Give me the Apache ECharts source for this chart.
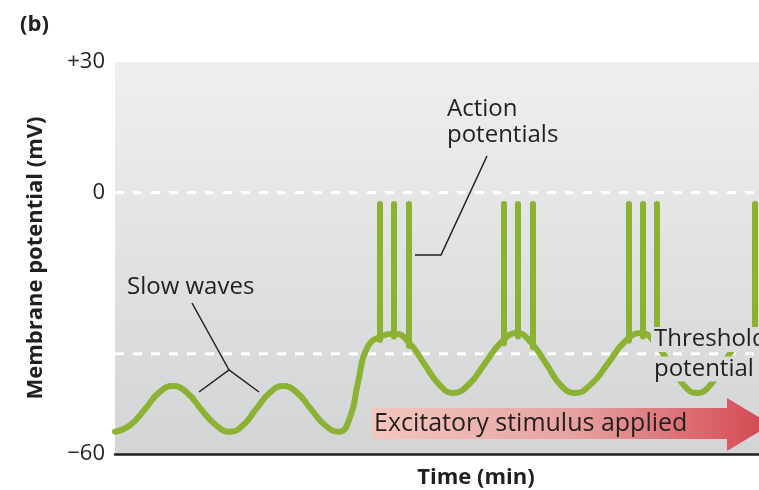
<!DOCTYPE html>
<html>
<head>
<meta charset="utf-8">
<script src="https://cdn.jsdelivr.net/npm/echarts@6/dist/echarts.min.js"></script>
<style>html,body{margin:0;padding:0;background:#fff}#c{width:759px;height:490px}</style>
</head>
<body>
<div id="c"></div>
<script>
// ---- data ----
const waveTime = [0, 1.5, 3.0, 4.4, 5.8, 7.2, 8.6, 10.1, 11.5, 12.8, 14.1, 15.5, 16.8, 18.2, 19.6, 21.0, 22.4,
  23.5, 24.3, 25.2, 26.6, 28.0, 29.4, 30.9, 32.4, 33.8, 35.4, 37.0, 38.6, 40.2, 41.6, 43.1, 44.5, 46.0,
  47.6, 49.3, 50.9, 52.6, 54.0, 55.4, 56.8, 58.2, 59.6, 60.9, 62.3, 63.7, 65.1, 66.5];
const waveMv = [-54.9, -53.4, -49.7, -45.9, -44.4, -45.9, -49.7, -53.4, -54.9, -53.4, -49.7, -45.9, -44.4, -45.9, -49.7, -53.4, -54.9,
  -51.6, -43.6, -35.7, -33.0, -32.4, -34.4, -39.2, -44.0, -46.0, -44.0, -39.2, -34.4, -32.2, -34.4, -39.2, -44.0, -46.0,
  -44.0, -39.2, -34.4, -32.2, -34.4, -39.2, -44.0, -46.0, -44.0, -39.2, -34.4, -32.2, -34.4, -39.2];
const spikeTime = [26.5, 27.9, 29.4, 38.9, 40.3, 41.8, 51.4, 52.8, 54.2, 64.0];
const spikeBase = [-33.8, -33.0, -35.2, -34.6, -33.0, -35.5, -34.0, -33.0, -35.6, -33.0];
const spikePeak = -2.6;
const thresholdMv = -37;
const zeroMv = 0;
const yTickValues = [-60, 0, 30];
const yTickLabels = ['\u221260', '0', '+30'];
const timeMin = 0, timeMax = 64.4;

const GREEN = '#8cb234';
const INK = '#231f20';
const FONT = '"Open Sans", sans-serif';

const chart = echarts.init(document.getElementById('c'));

function dashed(level) {
  return {
    type: 'line', z: 1, silent: true, symbol: 'none', animation: false,
    data: [[timeMin, level], [timeMax, level]],
    lineStyle: { color: '#ffffff', width: 3, type: [9, 9] }
  };
}

const option = {
  animation: false,
  backgroundColor: '#ffffff',
  title: {
    text: '(b)', left: 15, top: 9,
    textStyle: { fontFamily: FONT, fontWeight: 'bold', fontSize: 22, color: INK }
  },
  grid: {
    left: 115, right: 0, top: 62, bottom: 36, show: true, borderWidth: 0,
    containLabel: false, outerBoundsMode: 'none',
    backgroundColor: {
      type: 'linear', x: 0, y: 0, x2: 0, y2: 1,
      colorStops: [{ offset: 0, color: '#efeff0' }, { offset: 1, color: '#d3d4d6' }]
    }
  },
  xAxis: {
    type: 'value', min: timeMin, max: timeMax,
    name: 'Time (min)', nameLocation: 'middle', nameGap: 13,
    nameTextStyle: { fontFamily: FONT, fontWeight: 'bold', fontSize: 22, color: INK, padding: [0, 0, 0, 78] },
    axisLine: { show: true, onZero: false, lineStyle: { color: INK, width: 2.5 } },
    axisTick: { show: false }, axisLabel: { show: false }, splitLine: { show: false }
  },
  yAxis: {
    type: 'value', min: -60, max: 30, interval: 30,
    name: 'Membrane potential (mV)', nameLocation: 'middle', nameGap: 68,
    nameTextStyle: { fontFamily: FONT, fontWeight: 'bold', fontSize: 22, color: INK },
    axisLine: { show: false }, axisTick: { show: false }, splitLine: { show: false },
    axisLabel: {
      margin: 10, fontFamily: FONT, fontSize: 22, color: INK,
      formatter: function (v) { const i = yTickValues.indexOf(v); return i >= 0 ? yTickLabels[i] : ''; }
    }
  },
  series: [
    dashed(zeroMv),
    dashed(thresholdMv),
    {
      type: 'line', z: 3, symbol: 'none', smooth: 0.5, silent: true,
      data: waveTime.map((t, i) => [t, waveMv[i]]),
      lineStyle: { color: GREEN, width: 6, cap: 'round', join: 'round' }
    },
    {
      type: 'lines', coordinateSystem: 'cartesian2d', z: 4, silent: true,
      data: spikeTime.map((t, i) => ({ coords: [[t, spikeBase[i]], [t, spikePeak]] })),
      lineStyle: { color: GREEN, width: 6, cap: 'round', opacity: 1, curveness: 0 }
    }
  ],
  graphic: [
    { type: 'polyline', z: 50, shape: { points: [[192, 303], [229, 370]] }, style: { stroke: INK, lineWidth: 1.5, fill: null } },
    { type: 'polyline', z: 50, shape: { points: [[199, 392], [229, 370], [259, 392]] }, style: { stroke: INK, lineWidth: 1.5, fill: null } },
    { type: 'polyline', z: 50, shape: { points: [[487, 156], [441, 255], [415, 255]] }, style: { stroke: INK, lineWidth: 1.5, fill: null } },
    { type: 'text', z: 50, x: 127, y: 287, style: { text: 'Slow waves', font: '24px ' + FONT, fill: INK, verticalAlign: 'middle' } },
    { type: 'text', z: 50, x: 447, y: 109, style: { text: 'Action', font: '24px ' + FONT, fill: INK, verticalAlign: 'middle' } },
    { type: 'text', z: 50, x: 447, y: 135, style: { text: 'potentials', font: '24px ' + FONT, fill: INK, verticalAlign: 'middle' } },
    { type: 'text', z: 60, x: 651, y: 339.5, style: { text: 'Threshold', font: '24px ' + FONT, fill: INK, verticalAlign: 'middle', backgroundColor: '#dbdcde', padding: [5, 3, 0, 3], lineHeight: 20 } },
    { type: 'text', z: 60, x: 651, y: 369, style: { text: 'potential', font: '24px ' + FONT, fill: INK, verticalAlign: 'middle', backgroundColor: '#d9dadc', padding: [0, 3, 3, 3], lineHeight: 22 } },
    {
      type: 'polygon', z: 50,
      shape: { points: [[372, 408], [727, 408], [727, 398], [771, 424.5], [727, 451], [727, 439], [372, 439]] },
      style: {
        fill: {
          type: 'linear', x: 0, y: 0, x2: 1, y2: 0,
          colorStops: [{ offset: 0, color: '#f3c7be' }, { offset: 0.5, color: '#e6a3a1' }, { offset: 0.85, color: '#d9636a' }, { offset: 1, color: '#d2454f' }]
        }
      }
    },
    { type: 'text', z: 55, x: 374, y: 424, style: { text: 'Excitatory stimulus applied', font: '25px ' + FONT, fill: INK, verticalAlign: 'middle' } }
  ]
};
chart.setOption(option);
</script>
</body>
</html>
